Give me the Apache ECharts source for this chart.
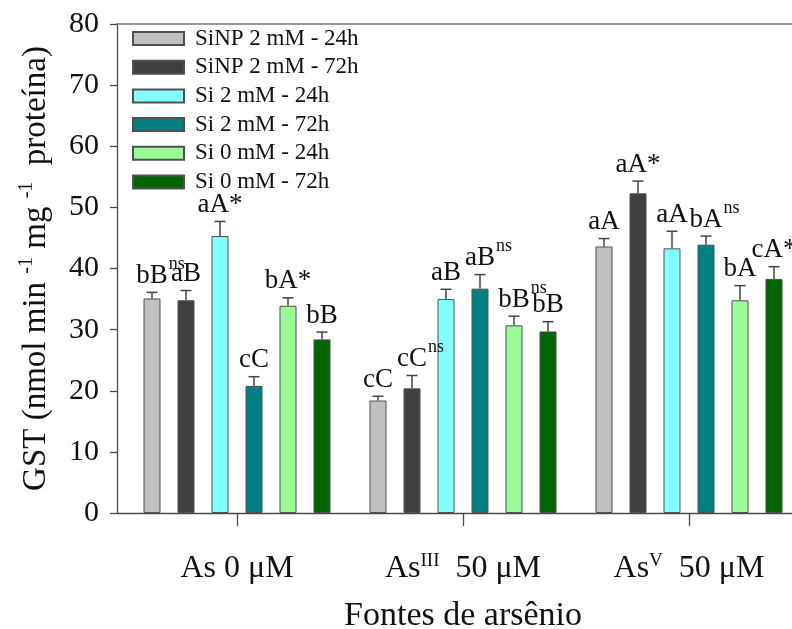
<!DOCTYPE html>
<html>
<head>
<meta charset="utf-8">
<script src="https://cdn.jsdelivr.net/npm/echarts@6/dist/echarts.min.js"></script>
<style>
  html, body { margin: 0; padding: 0; background: #ffffff; }
  #chart { width: 792px; height: 629px; }
</style>
</head>
<body>
<div id="chart"></div>
<script>
// GST activity by arsenic source and silicon treatment
const categories = ['As 0 μM', 'AsIII 50 μM', 'AsV 50 μM'];
const categoryRich = ['{m|As 0 μM}', '{m|As}{s|III}{m|  50 μM}', '{m|As}{s|V}{m|  50 μM}'];
const yTicks = [0, 10, 20, 30, 40, 50, 60, 70, 80];

const seriesNames = [
  'SiNP 2 mM - 24h', 'SiNP 2 mM - 72h',
  'Si 2 mM - 24h', 'Si 2 mM - 72h',
  'Si 0 mM - 24h', 'Si 0 mM - 72h'
];
const seriesColors = ['#c0c0c0', '#404040', '#80ffff', '#008080', '#98fb98', '#006400'];

// mean values
const sinp24 = [35.1, 18.4, 43.6];
const sinp72 = [34.8, 20.4, 52.3];
const si2h24 = [45.3, 35.0, 43.3];
const si2h72 = [20.8, 36.7, 43.9];
const si0h24 = [33.9, 30.7, 34.8];
const si0h72 = [28.4, 29.7, 38.3];

// standard errors (upper whisker)
const sinp24Err = [1.0, 0.7, 1.3];
const sinp72Err = [1.6, 2.1, 2.0];
const si2h24Err = [2.4, 1.6, 2.8];
const si2h72Err = [1.5, 2.3, 1.4];
const si0h24Err = [1.3, 1.5, 2.4];
const si0h72Err = [1.2, 1.6, 2.0];

// mean-comparison letters and superscript marks
const sinp24Letters = ['bB', 'cC', 'aA'];
const sinp72Letters = ['aB', 'cC', 'aA*'];
const si2h24Letters = ['aA*', 'aB', 'aA'];
const si2h72Letters = ['cC', 'aB', 'bA'];
const si0h24Letters = ['bA*', 'bB', 'bA'];
const si0h72Letters = ['bB', 'bB', 'cA*'];

const sinp24Sup = ['ns', '', ''];
const sinp72Sup = ['', 'ns', ''];
const si2h24Sup = ['', '', ''];
const si2h72Sup = ['', 'ns', 'ns'];
const si0h24Sup = ['', 'ns', ''];
const si0h72Sup = ['', '', ''];

const values = [sinp24, sinp72, si2h24, si2h72, si0h24, si0h72];
const errors = [sinp24Err, sinp72Err, si2h24Err, si2h72Err, si0h24Err, si0h72Err];
const letters = [sinp24Letters, sinp72Letters, si2h24Letters, si2h72Letters, si0h24Letters, si0h72Letters];
const sups = [sinp24Sup, sinp72Sup, si2h24Sup, si2h72Sup, si0h24Sup, si0h72Sup];

const FONT = 'Liberation Serif';
const INK = '#111111';
const AXIS = '#4a4a4a';
const BAR_W = 17;
const BAR_STEP = BAR_W * 2;       // barGap 100%
const LABEL_PX = 27;
const SUP_PX = 18;
const LABEL_GAP = 3;
const SUP_RISE = 16;

const measureCtx = document.createElement('canvas').getContext('2d');
function textWidth(str, px) {
  measureCtx.font = px + 'px "' + FONT + '"';
  return measureCtx.measureText(str).width;
}

const barSeries = seriesNames.map((name, k) => ({
  name: name,
  type: 'bar',
  xAxisIndex: 2,
  yAxisIndex: 1,
  barWidth: BAR_W,
  barGap: '100%',
  itemStyle: { color: seriesColors[k], borderColor: '#505050', borderWidth: 1 },
  data: values[k]
}));

const whiskerSeries = seriesNames.map((name, k) => {
  const offset = (k - (seriesNames.length - 1) / 2) * BAR_STEP;
  return {
    type: 'custom',
    xAxisIndex: 2,
    yAxisIndex: 1,
    z: 5,
    silent: true,
    data: values[k].map((v, i) => [i, v, errors[k][i]]),
    renderItem: function (params, api) {
      const i = params.dataIndex;
      const base = api.coord([api.value(0), api.value(1)]);
      const top = api.coord([api.value(0), api.value(1) + api.value(2)]);
      const x = base[0] + offset;
      const ly = top[1] - LABEL_GAP;
      const kids = [
        { type: 'line', shape: { x1: x, y1: base[1], x2: x, y2: top[1] },
          style: { stroke: '#444', lineWidth: 1.5 } },
        { type: 'line', shape: { x1: x - 5.5, y1: top[1], x2: x + 5.5, y2: top[1] },
          style: { stroke: '#444', lineWidth: 1.5 } },
        { type: 'text', style: { text: letters[k][i], x: x, y: ly, align: 'center',
          verticalAlign: 'bottom', fontSize: LABEL_PX, fontFamily: FONT, fill: INK } }
      ];
      if (sups[k][i]) {
        const w = textWidth(letters[k][i], LABEL_PX);
        kids.push({ type: 'text', style: { text: sups[k][i], x: x + w / 2 + 1, y: ly - SUP_RISE,
          align: 'left', verticalAlign: 'bottom', fontSize: SUP_PX, fontFamily: FONT, fill: INK } });
      }
      return { type: 'group', children: kids };
    }
  };
});

const chart = echarts.init(document.getElementById('chart'), null, { renderer: 'canvas' });

chart.setOption({
  animation: false,
  backgroundColor: '#ffffff',
  textStyle: { fontFamily: FONT },
  grid: [
    { left: 117, width: 685, top: 24, height: 489, outerBoundsMode: 'none' },
    { left: 124, width: 678, top: 24, height: 489, outerBoundsMode: 'none' }
  ],
  legend: {
    orient: 'vertical',
    left: 132,
    top: 27,
    padding: 0,
    itemWidth: 51,
    itemHeight: 13,
    itemGap: 5.7,
    icon: 'rect',
    data: seriesNames,
    textStyle: { fontFamily: FONT, fontSize: 23, lineHeight: 23, color: INK, padding: [0, 0, 0, 6] }
  },
  xAxis: [
    { gridIndex: 0, type: 'value', min: 0, max: 1, position: 'bottom',
      axisLine: { show: true, lineStyle: { color: AXIS, width: 1.3 } },
      axisTick: { show: false }, axisLabel: { show: false }, splitLine: { show: false } },
    { gridIndex: 0, type: 'value', min: 0, max: 1, position: 'top',
      axisLine: { show: true, lineStyle: { color: '#777', width: 1.6 } },
      axisTick: { show: false }, axisLabel: { show: false }, splitLine: { show: false } },
    { gridIndex: 1, type: 'category', data: categories, position: 'bottom',
      axisLine: { show: false },
      axisTick: { show: true, alignWithLabel: true, length: 13, lineStyle: { color: AXIS, width: 1.3 } },
      axisLabel: {
        margin: 39,
        formatter: function (v, idx) { return categoryRich[idx]; },
        rich: {
          m: { fontFamily: FONT, fontSize: 32, lineHeight: 34, color: INK },
          s: { fontFamily: FONT, fontSize: 19, lineHeight: 22, verticalAlign: 'top', color: INK }
        }
      },
      name: 'Fontes de arsênio',
      nameLocation: 'middle',
      nameGap: 86,
      nameTextStyle: { fontFamily: FONT, fontSize: 34, color: INK }
    }
  ],
  yAxis: [
    { gridIndex: 0, type: 'value', min: 0, max: 80, interval: 10,
      axisLine: { show: true, lineStyle: { color: AXIS, width: 1.3 } },
      axisTick: { show: true, inside: false, length: 7, lineStyle: { color: AXIS, width: 1.3 } },
      splitLine: { show: false },
      axisLabel: { margin: 18, fontFamily: FONT, fontSize: 30, color: INK,
        formatter: function (v) { return yTicks.indexOf(v) >= 0 ? String(v) : ''; } },
      name: '{m|GST (nmol min }{s|-1}{m| mg }{s|-1}{m|  proteína)}',
      nameLocation: 'middle',
      nameGap: 62,
      nameTextStyle: {
        rich: {
          m: { fontFamily: FONT, fontSize: 33, lineHeight: 38, color: INK },
          s: { fontFamily: FONT, fontSize: 20, lineHeight: 18, verticalAlign: 'top', color: INK }
        }
      }
    },
    { gridIndex: 1, type: 'value', min: 0, max: 80, interval: 10, show: false,
      splitLine: { show: false } }
  ],
  series: [].concat(barSeries, whiskerSeries)
});
</script>
</body>
</html>
